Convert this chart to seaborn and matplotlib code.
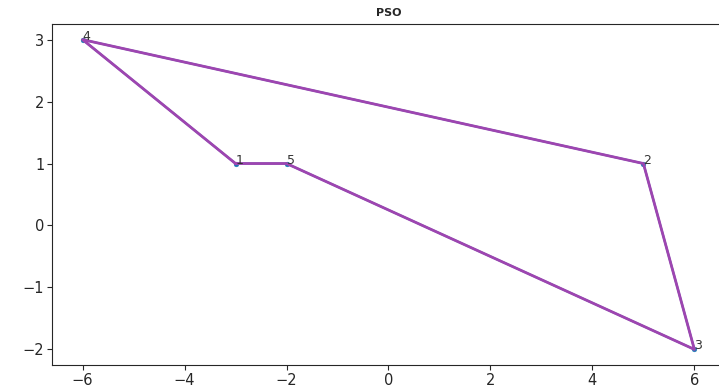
import matplotlib
matplotlib.use("Agg")
import matplotlib.pyplot as plt
import seaborn as sns
import pandas as pd

# city coordinates and the best tour found
city_x = [-3, 5, 6, -6, -2]
city_y = [1, 1, -2, 3, 1]
city_names = ["1", "2", "3", "4", "5"]
tour = [0, 4, 2, 1, 3, 0]

sns.set_style("ticks")
cities = pd.DataFrame({"x": city_x, "y": city_y, "name": city_names})
route = cities.iloc[tour].reset_index(drop=True)

fig = plt.figure(figsize=(7.19, 3.89), dpi=100)
ax = fig.add_axes([0.0723, 0.062, 0.936, 0.876])

sns.scatterplot(data=cities, x="x", y="y", color="C0", s=12, edgecolor=None, ax=ax)
sns.lineplot(data=route, x="x", y="y", sort=False, estimator=None, color="C0", lw=1.5, ax=ax)
sns.lineplot(data=route, x="x", y="y", sort=False, estimator=None, color="#9e45b0", lw=2, ax=ax)
for _, r in cities.iterrows():
    ax.text(r["x"], r["y"], r["name"], fontsize=9, color="#333333")

ax.set_title("PSO", fontsize=8, fontweight="bold")
ax.set_xlabel("")
ax.set_ylabel("")
ax.tick_params(labelsize=10.5, pad=2)
ax.spines["top"].set_visible(True)
ax.spines["right"].set_visible(True)
fig.savefig("out.png", dpi=100)
